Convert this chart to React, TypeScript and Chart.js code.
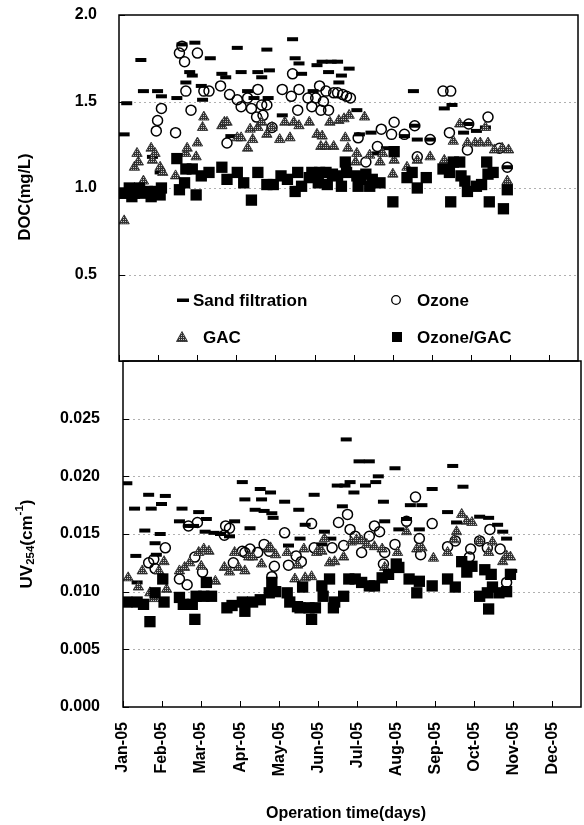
import React, { useEffect, useRef } from 'react';
import { Chart, registerables } from 'chart.js';

Chart.register(...registerables);

const FONT_FAMILY = "'Liberation Sans', Arial, Helvetica, sans-serif";

// ---------- axis definitions ----------
const monthLabels = ['Jan-05', 'Feb-05', 'Mar-05', 'Apr-05', 'May-05', 'Jun-05', 'Jul-05', 'Aug-05', 'Sep-05', 'Oct-05', 'Nov-05', 'Dec-05'];
const monthTickDays = [0, 30.4, 60.8, 91.3, 121.7, 152.1, 182.5, 212.9, 243.3, 273.8, 304.2, 334.6];
const xMaxDay = 357;

const docTicks = [0, 0.5, 1.0, 1.5, 2.0];
const uvTicks = [0, 0.005, 0.01, 0.015, 0.02, 0.025, 0.03];

const seriesNames = ['Sand filtration', 'Ozone', 'GAC', 'Ozone/GAC'];

// ---------- DOC (mg/L) : [day, value] ----------
const sandDoc: [number, number][] = [
  [4, 1.31], [6, 1.49], [17, 1.74], [19, 1.56], [26, 1.18], [30, 1.56], [32, 1.09], [33, 1.53], [45, 1.52], [49, 1.83],
  [52, 1.61], [55, 1.67], [57, 1.65], [59, 1.84], [64, 1.59], [65, 1.51], [71, 1.75], [80, 1.66], [83, 1.64], [87, 1.30],
  [92, 1.81], [95, 1.67], [100, 1.56], [105, 1.52], [108, 1.67], [111, 1.64], [115, 1.80], [116, 1.52], [117, 1.68], [127, 1.42],
  [135, 1.86], [137, 1.75], [140, 1.72], [142, 1.66], [151, 1.56], [154, 1.71], [158, 1.73], [163, 1.67], [165, 1.73], [170, 1.73],
  [171, 1.61], [173, 1.65], [179, 1.69], [185, 1.45], [187, 1.31], [196, 1.32], [201, 1.20], [208, 1.23], [222, 1.30], [229, 1.56],
  [230, 1.36], [232, 1.28], [242, 1.28], [253, 1.46], [259, 1.48], [268, 1.32], [271, 1.37], [278, 1.33], [285, 1.35], [288, 1.09],
  [302, 1.12],
];
const ozoneDoc: [number, number][] = [
  [29, 1.33], [30, 1.39], [33, 1.46], [44, 1.32], [47, 1.78], [49, 1.82], [51, 1.73], [52, 1.56], [56, 1.45], [61, 1.78],
  [66, 1.56], [70, 1.56], [79, 1.59], [84, 1.26], [86, 1.54], [92, 1.51], [95, 1.47], [100, 1.52], [103, 1.46], [107, 1.41],
  [108, 1.57], [111, 1.48], [112, 1.42], [115, 1.48], [119, 1.35], [127, 1.57], [134, 1.53], [135, 1.66], [139, 1.45], [140, 1.57],
  [147, 1.52], [150, 1.47], [153, 1.52], [156, 1.59], [157, 1.45], [159, 1.50], [161, 1.56], [163, 1.45], [167, 1.55], [170, 1.55],
  [174, 1.54], [177, 1.53], [180, 1.52], [186, 1.29], [192, 1.15], [201, 1.24], [204, 1.34], [212, 1.31], [214, 1.38], [222, 1.31],
  [230, 1.36], [232, 1.18], [242, 1.28], [252, 1.56], [257, 1.32], [258, 1.56], [271, 1.22], [272, 1.37], [287, 1.41], [296, 1.23],
  [302, 1.12],
];
const gacDoc: [number, number][] = [
  [4, 0.81], [12, 1.12], [14, 1.20], [15, 1.15], [19, 1.04], [25, 1.23], [26, 1.16], [28, 1.20], [32, 1.12], [34, 1.09],
  [44, 1.07], [52, 1.20], [53, 1.23], [60, 1.18], [61, 1.26], [65, 1.35], [66, 1.41], [80, 1.36], [82, 1.38], [84, 1.38],
  [92, 1.29], [95, 1.29], [100, 1.23], [102, 1.34], [104, 1.28], [108, 1.35], [111, 1.38], [115, 1.31], [119, 1.35], [125, 1.28],
  [129, 1.38], [133, 1.29], [136, 1.38], [140, 1.36], [148, 1.38], [154, 1.31], [157, 1.24], [158, 1.30], [161, 1.24], [164, 1.38],
  [167, 1.24], [171, 1.39], [175, 1.40], [176, 1.29], [178, 1.23], [179, 1.42], [184, 1.15], [185, 1.20], [191, 1.41], [195, 1.19],
  [203, 1.15], [205, 1.20], [213, 1.08], [214, 1.16], [224, 1.12], [232, 1.16], [242, 1.18], [253, 1.16], [260, 1.27], [265, 1.37],
  [271, 1.26], [277, 1.26], [281, 1.26], [285, 1.35], [287, 1.26], [292, 1.22], [298, 1.23], [302, 1.04], [303, 1.22],
];
const ozoneGacDoc: [number, number][] = [
  [2, 0.97], [4, 0.97], [8, 1.00], [10, 0.95], [12, 0.97], [16, 1.00], [18, 0.97], [22, 0.98], [25, 0.95], [28, 0.98],
  [32, 0.96], [33, 1.00], [45, 1.17], [47, 0.99], [51, 1.03], [52, 1.11], [57, 1.11], [60, 0.96], [64, 1.07], [70, 1.09],
  [80, 1.12], [84, 1.05], [92, 1.09], [97, 1.03], [103, 0.93], [108, 1.09], [115, 1.02], [120, 1.02], [126, 1.07], [131, 1.05],
  [137, 0.98], [139, 1.09], [142, 1.01], [148, 1.06], [150, 1.09], [155, 1.03], [156, 1.09], [161, 1.09], [162, 1.02], [166, 1.08],
  [170, 1.07], [173, 1.01], [176, 1.15], [177, 1.09], [185, 1.07], [186, 1.01], [188, 1.05], [192, 1.08], [195, 1.01], [197, 1.05],
  [203, 1.03], [213, 0.92], [214, 1.21], [224, 1.06], [228, 1.09], [232, 1.00], [239, 1.06], [252, 1.11], [257, 1.09], [258, 0.92],
  [260, 1.15], [265, 1.15], [266, 1.07], [269, 1.04], [271, 0.98], [278, 1.01], [282, 1.02], [286, 1.15], [287, 1.08], [288, 0.92],
  [291, 1.09], [299, 0.88], [302, 0.99],
];

// ---------- UV254 (cm-1) : [day, value] ----------
const sandUv: [number, number][] = [
  [3, 0.0194], [9, 0.0172], [10, 0.0131], [11, 0.0108], [17, 0.0153], [20, 0.0184], [22, 0.0172], [25, 0.0142], [26, 0.0132], [29, 0.0150],
  [30, 0.0176], [33, 0.0183], [44, 0.0161], [46, 0.0172], [51, 0.0157], [55, 0.0157], [59, 0.0169], [64, 0.0152], [65, 0.0163], [71, 0.0151],
  [76, 0.0150], [83, 0.0148], [87, 0.0161], [93, 0.0195], [95, 0.0180], [99, 0.0155], [103, 0.0171], [107, 0.0189], [108, 0.0180], [110, 0.0170],
  [115, 0.0186], [116, 0.0168], [117, 0.0164], [126, 0.0178], [129, 0.0140], [137, 0.0171], [138, 0.0146], [142, 0.0158], [149, 0.0184], [155, 0.0141],
  [157, 0.0152], [162, 0.0146], [167, 0.0192], [171, 0.0174], [173, 0.0192], [174, 0.0232], [177, 0.0195], [180, 0.0186], [184, 0.0213], [189, 0.0192],
  [192, 0.0213], [197, 0.0195], [199, 0.0200], [203, 0.0178], [204, 0.0161], [212, 0.0207], [215, 0.0154], [221, 0.0163], [224, 0.0175], [231, 0.0154],
  [233, 0.0175], [241, 0.0189], [253, 0.0169], [257, 0.0209], [260, 0.0160], [265, 0.0191], [278, 0.0165], [285, 0.0164], [292, 0.0158], [296, 0.0152],
  [299, 0.0146], [303, 0.0118],
];
const ozoneUv: [number, number][] = [
  [20, 0.0125], [24, 0.0128], [25, 0.0120], [33, 0.0138], [44, 0.0111], [50, 0.0106], [51, 0.0157], [56, 0.0130], [58, 0.0160], [62, 0.0117],
  [79, 0.0149], [80, 0.0157], [83, 0.0155], [86, 0.0125], [93, 0.0135], [95, 0.0134], [99, 0.0137], [105, 0.0134], [110, 0.0141], [114, 0.0135],
  [116, 0.0113], [118, 0.0122], [126, 0.0151], [129, 0.0123], [135, 0.0131], [139, 0.0126], [147, 0.0159], [149, 0.0138], [163, 0.0138], [168, 0.0160],
  [172, 0.0140], [175, 0.0167], [177, 0.0154], [181, 0.0148], [186, 0.0134], [192, 0.0148], [196, 0.0157], [200, 0.0152], [203, 0.0124], [204, 0.0134],
  [212, 0.0141], [221, 0.0161], [228, 0.0182], [231, 0.0146], [232, 0.0132], [241, 0.0159], [253, 0.0139], [259, 0.0144], [270, 0.0130], [271, 0.0137],
  [278, 0.0144], [284, 0.0138], [286, 0.0154], [294, 0.0137], [299, 0.0108],
];
const gacUv: [number, number][] = [
  [4, 0.0112], [12, 0.0104], [15, 0.0118], [21, 0.0099], [24, 0.0094], [28, 0.0118], [32, 0.0126], [34, 0.0102], [44, 0.0118], [48, 0.0121],
  [52, 0.0125], [59, 0.0134], [61, 0.0122], [63, 0.0137], [67, 0.0135], [72, 0.0109], [79, 0.0121], [83, 0.0117], [87, 0.0134], [90, 0.0121],
  [95, 0.0118], [98, 0.0130], [101, 0.0130], [108, 0.0124], [113, 0.0137], [115, 0.0138], [119, 0.0132], [128, 0.0134], [134, 0.0111], [136, 0.0123],
  [141, 0.0137], [142, 0.0112], [147, 0.0113], [151, 0.0134], [155, 0.0135], [157, 0.0146], [161, 0.0125], [165, 0.0126], [172, 0.0130], [178, 0.0143],
  [182, 0.0145], [186, 0.0144], [190, 0.0141], [196, 0.0139], [202, 0.0137], [204, 0.0121], [214, 0.0134], [221, 0.0152], [229, 0.0137], [233, 0.0138],
  [242, 0.0129], [253, 0.0134], [258, 0.0145], [260, 0.0152], [264, 0.0167], [268, 0.0161], [272, 0.0160], [278, 0.0144], [285, 0.0134], [288, 0.0143],
  [296, 0.0126], [299, 0.0131], [302, 0.0130],
];
const ozoneGacUv: [number, number][] = [
  [3, 0.0091], [11, 0.0091], [16, 0.0089], [21, 0.0074], [25, 0.0099], [31, 0.0111], [32, 0.0091], [44, 0.0095], [47, 0.0089], [54, 0.0089],
  [56, 0.0076], [57, 0.0096], [63, 0.0096], [65, 0.0108], [69, 0.0096], [81, 0.0086], [85, 0.0088], [93, 0.0091], [95, 0.0083], [101, 0.0091],
  [107, 0.0093], [114, 0.0099], [116, 0.0108], [119, 0.0100], [128, 0.0099], [130, 0.0091], [136, 0.0087], [138, 0.0086], [140, 0.0104], [145, 0.0086],
  [147, 0.0076], [150, 0.0086], [155, 0.0105], [156, 0.0096], [161, 0.0111], [164, 0.0086], [165, 0.0091], [172, 0.0096], [176, 0.0111], [181, 0.0111],
  [186, 0.0108], [192, 0.0105], [196, 0.0105], [202, 0.0112], [207, 0.0115], [213, 0.0124], [215, 0.0121], [223, 0.0111], [229, 0.0099], [231, 0.0109],
  [241, 0.0105], [253, 0.0111], [259, 0.0104], [264, 0.0126], [268, 0.0117], [272, 0.0122], [278, 0.0096], [282, 0.0119], [284, 0.0099], [285, 0.0085],
  [287, 0.0115], [288, 0.0104], [293, 0.0099], [299, 0.0100], [302, 0.0115],
];

// ---------- helpers ----------
const pts = (arr: [number, number][]) => arr.map(([x, y]) => ({ x, y }));

function makePattern(ctx: CanvasRenderingContext2D) {
  const pc = document.createElement('canvas');
  pc.width = 2;
  pc.height = 2;
  const p = pc.getContext('2d')!;
  p.fillStyle = '#333333';
  p.fillRect(0, 0, 2, 2);
  p.fillStyle = '#c4c4c4';
  p.fillRect(1, 1, 1, 1);
  return ctx.createPattern(pc, 'repeat') as CanvasPattern;
}

function buildDatasets(sand: [number, number][], ozone: [number, number][], gac: [number, number][], ozGac: [number, number][], pattern: CanvasPattern) {
  return [
    {
      label: seriesNames[3], data: pts(ozGac), order: 1, showLine: false,
      pointStyle: 'rect', pointRadius: 8, pointHoverRadius: 8,
      pointBackgroundColor: '#000', pointBorderColor: '#000', pointBorderWidth: 0,
    },
    {
      label: seriesNames[2], data: pts(gac), order: 2, showLine: false,
      pointStyle: 'triangle', pointRadius: 6, pointHoverRadius: 6,
      pointBackgroundColor: pattern, pointBorderColor: '#222', pointBorderWidth: 0.8,
    },
    {
      label: seriesNames[1], data: pts(ozone), order: 3, showLine: false,
      pointStyle: 'circle', pointRadius: 5, pointHoverRadius: 5,
      pointBackgroundColor: 'rgba(255,255,255,0)', pointBorderColor: '#000', pointBorderWidth: 1.5,
    },
    {
      label: seriesNames[0], data: pts(sand), order: 4, showLine: false,
      pointStyle: 'line', pointRadius: 5.5, pointHoverRadius: 5.5,
      pointBorderColor: '#000', pointBorderWidth: 4,
    },
  ];
}

const zeroPad = (s: any) => {
  s.paddingTop = 0;
  s.paddingBottom = 0;
  s.paddingLeft = 0;
  s.paddingRight = 0;
};

function framePlugin(yTicks: number[]) {
  return {
    id: 'frame',
    beforeDatasetsDraw(chart: any) {
      const { ctx, chartArea: a, scales } = chart;
      const y = scales.y;
      ctx.save();
      ctx.strokeStyle = '#b0b0b0';
      ctx.lineWidth = 1;
      ctx.setLineDash([2, 3]);
      for (const v of yTicks) {
        if (v <= y.min || v >= y.max) continue;
        const py = Math.round(y.getPixelForValue(v)) + 0.5;
        ctx.beginPath();
        ctx.moveTo(a.left, py);
        ctx.lineTo(a.right, py);
        ctx.stroke();
      }
      ctx.restore();
    },
    afterDatasetsDraw(chart: any) {
      const { ctx, chartArea: a, scales } = chart;
      ctx.save();
      ctx.strokeStyle = '#000';
      ctx.lineWidth = 1.5;
      ctx.setLineDash([]);
      ctx.strokeRect(a.left, a.top, a.right - a.left, a.bottom - a.top);
      ctx.lineWidth = 1;
      for (const v of yTicks) {
        const py = Math.round(scales.y.getPixelForValue(v)) + 0.5;
        ctx.beginPath();
        ctx.moveTo(a.left, py);
        ctx.lineTo(a.left + 6, py);
        ctx.stroke();
      }
      for (const d of monthTickDays) {
        const px = Math.round(scales.x.getPixelForValue(d)) + 0.5;
        ctx.beginPath();
        ctx.moveTo(px, a.bottom);
        ctx.lineTo(px, a.bottom - 6);
        ctx.stroke();
      }
      ctx.restore();
    },
  };
}

function legendPlugin(pattern: CanvasPattern) {
  return {
    id: 'innerLegend',
    afterDatasetsDraw(chart: any) {
      const ctx: CanvasRenderingContext2D = chart.ctx;
      ctx.save();
      ctx.fillStyle = '#000';
      ctx.font = `bold 17px ${FONT_FAMILY}`;
      ctx.textBaseline = 'middle';
      ctx.textAlign = 'left';
      // Sand filtration
      ctx.fillRect(177, 298.5, 12, 3.5);
      ctx.fillText(seriesNames[0], 193, 301);
      // Ozone
      ctx.beginPath();
      ctx.arc(396, 300, 4.3, 0, Math.PI * 2);
      ctx.lineWidth = 1.3;
      ctx.strokeStyle = '#000';
      ctx.stroke();
      ctx.fillText(seriesNames[1], 417, 301);
      // GAC
      ctx.beginPath();
      ctx.moveTo(182, 331.5);
      ctx.lineTo(187.5, 341.5);
      ctx.lineTo(176.5, 341.5);
      ctx.closePath();
      ctx.fillStyle = pattern;
      ctx.fill();
      ctx.lineWidth = 0.8;
      ctx.strokeStyle = '#222';
      ctx.stroke();
      ctx.fillStyle = '#000';
      ctx.fillText(seriesNames[2], 203, 338);
      // Ozone/GAC
      ctx.fillRect(392, 332, 10, 10);
      ctx.fillText(seriesNames[3], 417, 338);
      ctx.restore();
    },
  };
}

function topTitlePlugin() {
  return {
    id: 'docTitle',
    afterDraw(chart: any) {
      const ctx: CanvasRenderingContext2D = chart.ctx;
      ctx.save();
      ctx.translate(25, 197);
      ctx.rotate(-Math.PI / 2);
      ctx.font = `bold 16.5px ${FONT_FAMILY}`;
      ctx.fillStyle = '#000';
      ctx.textAlign = 'center';
      ctx.textBaseline = 'middle';
      ctx.fillText('DOC(mg/L)', 0, 0);
      ctx.restore();
    },
  };
}

function bottomTitlePlugin(offsetTop: number) {
  return {
    id: 'uvTitle',
    afterDraw(chart: any) {
      const ctx: CanvasRenderingContext2D = chart.ctx;
      ctx.save();
      ctx.fillStyle = '#000';
      ctx.textBaseline = 'middle';
      ctx.textAlign = 'left';
      const big = `bold 17px ${FONT_FAMILY}`;
      const small = `bold 11.5px ${FONT_FAMILY}`;
      const parts = [
        { t: 'UV', f: big, dy: 0 },
        { t: '254', f: small, dy: 4 },
        { t: '(cm', f: big, dy: 0 },
        { t: '-1', f: small, dy: -7 },
        { t: ')', f: big, dy: 0 },
      ];
      let total = 0;
      const widths = parts.map((p) => {
        ctx.font = p.f;
        const w = ctx.measureText(p.t).width;
        total += w;
        return w;
      });
      ctx.translate(27, 544 - offsetTop);
      ctx.rotate(-Math.PI / 2);
      let x = -total / 2;
      parts.forEach((p, i) => {
        ctx.font = p.f;
        ctx.fillText(p.t, x, p.dy);
        x += widths[i];
      });
      ctx.restore();

      ctx.save();
      ctx.fillStyle = '#000';
      ctx.font = `bold 16px ${FONT_FAMILY}`;
      ctx.textAlign = 'center';
      ctx.textBaseline = 'middle';
      ctx.fillText('Operation time(days)', 346, 814 - offsetTop);
      ctx.restore();
    },
  };
}

const TOP_H = 362;
const BOTTOM_TOP = 359;
const BOTTOM_H = 825 - BOTTOM_TOP;

export default function App() {
  const topRef = useRef<HTMLCanvasElement | null>(null);
  const bottomRef = useRef<HTMLCanvasElement | null>(null);

  useEffect(() => {
    const topCanvas = topRef.current!;
    const bottomCanvas = bottomRef.current!;
    const tickFont = { family: FONT_FAMILY, size: 16, weight: 'bold' as const };

    const topPattern = makePattern(topCanvas.getContext('2d')!);
    const bottomPattern = makePattern(bottomCanvas.getContext('2d')!);

    const topChart = new Chart(topCanvas, {
      type: 'scatter',
      data: { datasets: buildDatasets(sandDoc, ozoneDoc, gacDoc, ozoneGacDoc, topPattern) as any },
      options: {
        animation: false,
        responsive: false,
        maintainAspectRatio: false,
        events: [],
        layout: { padding: { left: 0, right: 6, top: 15, bottom: 1 }, autoPadding: false },
        plugins: { legend: { display: false }, tooltip: { enabled: false } },
        scales: {
          x: {
            type: 'linear', min: 0, max: xMaxDay,
            afterBuildTicks: (s: any) => { s.ticks = monthTickDays.map((v) => ({ value: v })); },
            ticks: { display: false },
            grid: { display: false, drawTicks: false },
            border: { display: false },
            afterFit: (s: any) => { s.height = 0; zeroPad(s); },
          },
          y: {
            type: 'linear', min: 0, max: 2,
            afterBuildTicks: (s: any) => { s.ticks = docTicks.map((v) => ({ value: v })); },
            ticks: {
              font: tickFont, color: '#000', padding: 22,
              callback: (v: any) => (Number(v) === 0 ? '' : Number(v).toFixed(1)),
            },
            grid: { display: false, drawTicks: false },
            border: { display: false },
            afterFit: (s: any) => { s.width = 119; zeroPad(s); },
          },
        },
      } as any,
      plugins: [framePlugin(docTicks), legendPlugin(topPattern), topTitlePlugin()],
    });

    const bottomChart = new Chart(bottomCanvas, {
      type: 'scatter',
      data: { datasets: buildDatasets(sandUv, ozoneUv, gacUv, ozoneGacUv, bottomPattern) as any },
      options: {
        animation: false,
        responsive: false,
        maintainAspectRatio: false,
        events: [],
        layout: { padding: { left: 0, right: 3, top: 2, bottom: 0 }, autoPadding: false },
        plugins: { legend: { display: false }, tooltip: { enabled: false } },
        scales: {
          x: {
            type: 'linear', min: 0, max: xMaxDay,
            afterBuildTicks: (s: any) => { s.ticks = monthTickDays.map((v) => ({ value: v })); },
            ticks: {
              font: tickFont, color: '#000', padding: 15, autoSkip: false,
              maxRotation: 90, minRotation: 90,
              callback: (_v: any, i: number) => monthLabels[i],
            },
            grid: { display: false, drawTicks: false },
            border: { display: false },
            afterFit: (s: any) => { s.height = 118; zeroPad(s); },
          },
          y: {
            type: 'linear', min: 0, max: 0.03,
            afterBuildTicks: (s: any) => { s.ticks = uvTicks.map((v) => ({ value: v })); },
            ticks: {
              font: tickFont, color: '#000', padding: 23,
              callback: (v: any) => (Number(v) > 0.0299 ? '' : Number(v).toFixed(3)),
            },
            grid: { display: false, drawTicks: false },
            border: { display: false },
            afterFit: (s: any) => { s.width = 123; zeroPad(s); },
          },
        },
      } as any,
      plugins: [framePlugin(uvTicks), bottomTitlePlugin(BOTTOM_TOP)],
    });

    return () => {
      topChart.destroy();
      bottomChart.destroy();
    };
  }, []);

  return (
    <div style={{ position: 'absolute', left: 0, top: 0, width: 584, height: 825, background: '#fff' }}>
      <canvas
        ref={topRef}
        width={584}
        height={TOP_H}
        style={{ position: 'absolute', left: 0, top: 0, width: 584, height: TOP_H }}
      />
      <canvas
        ref={bottomRef}
        width={584}
        height={BOTTOM_H}
        style={{ position: 'absolute', left: 0, top: BOTTOM_TOP, width: 584, height: BOTTOM_H }}
      />
    </div>
  );
}
